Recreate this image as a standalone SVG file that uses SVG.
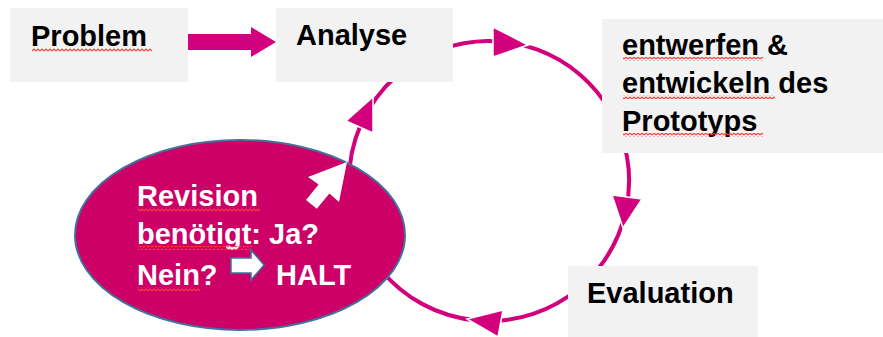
<svg xmlns="http://www.w3.org/2000/svg" width="883" height="337" viewBox="0 0 883 337">
<style>
.box{fill:#f2f2f2;stroke:none}
.lbl{font-family:"Liberation Sans",Arial,sans-serif;font-weight:bold;font-size:29px;fill:#000}
.wl{font-family:"Liberation Sans",Arial,sans-serif;font-weight:bold;font-size:29px;fill:#fff}
.arc{fill:none;stroke:#d2007c;stroke-width:4}
.head{fill:#d2007c;stroke:#fff;stroke-width:1.5;stroke-linejoin:miter}
.wavy{fill:url(#wave)}
</style>
<defs>
<pattern id="wave" patternUnits="userSpaceOnUse" width="4" height="4">
<path d="M0 3 L2 1 L4 3" fill="none" stroke="#ff3c3c" stroke-width="1.1"/>
</pattern>
</defs>
<rect width="883" height="337" fill="#fff"/>
<g id="connectors">
<path class="arc" d="M349.5,168.8 A140,140 0 0 1 408.7,66.3"/>
<path class="arc" d="M441.1,49.4 A140,140 0 0 1 610.2,111"/>
<path class="arc" d="M620.6,133.1 A140,140 0 0 1 588,280"/>
<path class="arc" d="M579,288.2 A140,140 0 0 1 381.8,271"/>
<polygon class="head" points="373,97 373,133 346,121"/>
<polygon class="head" points="528,45 493,27 493,57"/>
<polygon class="head" points="623,228 612,195 642,199"/>
<polygon class="head" points="467,319 503,310 498,337"/>
<polygon fill="#d2007c" points="188,34 251,34 251,27 276,42 251,57 251,50 188,50"/>
</g>
<g id="problem">
<rect class="box" x="10" y="8" width="178" height="74"/>
<text class="lbl" x="31" y="46">Problem</text>
<rect class="wavy" x="32" y="48" width="120" height="4"/>
</g>
<g id="analyse">
<rect class="box" x="276" y="8" width="177" height="74"/>
<text class="lbl" x="296" y="45">Analyse</text>
</g>
<g id="entwerfen">
<rect class="box" x="602" y="19" width="281" height="134"/>
<text class="lbl" x="622" y="55">entwerfen &amp;</text>
<text class="lbl" x="622" y="93">entwickeln des</text>
<text class="lbl" x="622" y="131">Prototyps</text>
<rect class="wavy" x="623" y="57" width="140" height="4"/>
<rect class="wavy" x="623" y="95" width="152" height="4"/>
<rect class="wavy" x="623" y="133" width="140" height="4"/>
</g>
<g id="evaluation">
<rect class="box" x="568" y="266" width="190" height="71"/>
<text class="lbl" x="587" y="303">Evaluation</text>
</g>
<g id="revision">
<ellipse cx="240" cy="235" rx="165" ry="95" fill="#cc0066" stroke="#41719c" stroke-width="2"/>
<text class="wl" x="137" y="206">Revision</text>
<text class="wl" x="137" y="244">benötigt: Ja?</text>
<text class="wl" x="137" y="285">Nein?</text>
<text class="wl" x="276" y="285">HALT</text>
<rect class="wavy" x="138" y="208" width="122" height="4"/>
<rect class="wavy" x="138" y="246" width="114" height="4"/>
<rect class="wavy" x="138" y="287" width="62" height="4"/>
<polygon fill="#fff" stroke="#41719c" stroke-width="1.5" points="231,258 251,258 251,250 264,265 251,280 251,273 231,273"/>
<polygon fill="#fff" points="347,162 339,202 329.4,193.4 316.8,208.8 306,200 318.6,184.6 308,177"/>
</g>
</svg>
